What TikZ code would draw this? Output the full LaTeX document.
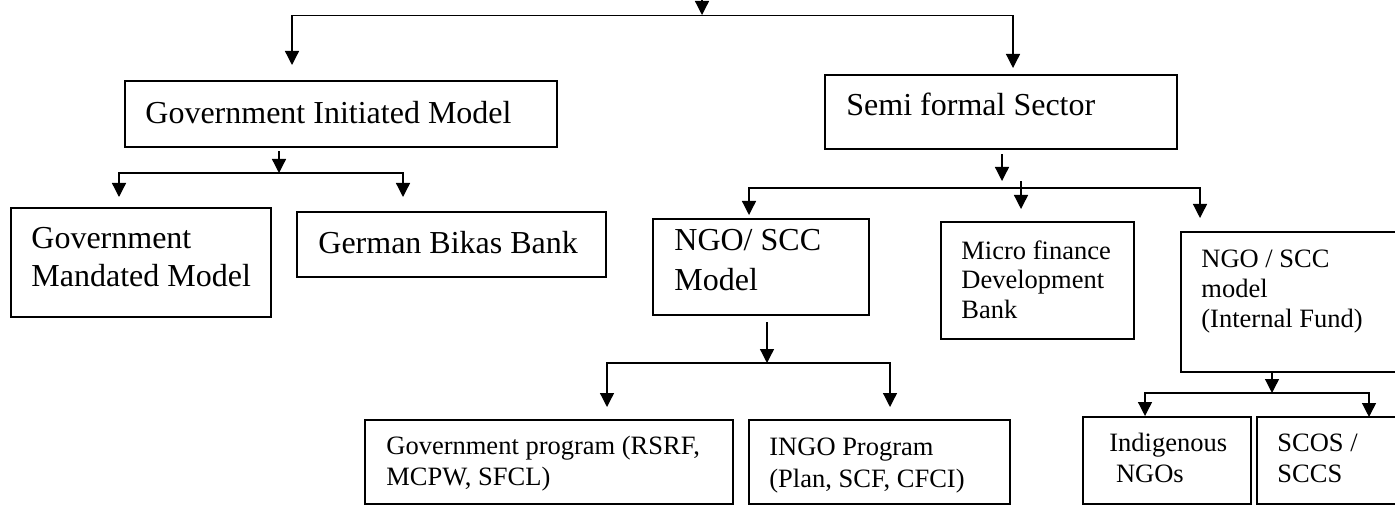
\documentclass[tikz,border=0pt]{standalone}
\usepackage{fontspec}
\setmainfont{Liberation Serif}
\usetikzlibrary{arrows.meta,fit}
\begin{document}
\begin{tikzpicture}[x=0.5pt,y=-0.5pt,
  box/.style={draw, line width=0.75pt, inner sep=0pt},
  lnk/.style={line width=0.65pt, line cap=rect},
  arr/.style={line width=0.65pt, line cap=rect, -{Triangle[width=7pt,length=7pt]}},
  big/.style={font=\fontsize{16pt}{19pt}\selectfont, anchor=north west, inner sep=0pt, align=left},
  sml/.style={font=\fontsize{13.25pt}{15.5pt}\selectfont, anchor=north west, inner sep=0pt, align=left}]
\useasboundingbox (0,0) rectangle (1395,507);
\clip (0,0) rectangle (1395,507);

% boxes
\node[box, fit={(125,81) (557,147)}] (gi) {};
\node[box, fit={(825,75) (1177,149)}] (sf) {};
\node[box, fit={(11,208) (271,317)}] (gm) {};
\node[box, fit={(297,212) (606,277)}] (gb) {};
\node[box, fit={(653,219) (869,315)}] (ngo) {};
\node[box, fit={(941,222) (1134,339)}] (mf) {};
\node[box, fit={(1181,232) (1402,372)}] (nif) {};
\node[box, fit={(365,420) (733,504)}] (gp) {};
\node[box, fit={(749,420) (1010,504)}] (ig) {};
\node[box, fit={(1083,417) (1251,504)}] (ind) {};
\node[box, fit={(1257,417) (1402,504)}] (sc) {};

% texts
\node[big] (giT) at (145,91) {\rule{0pt}{1em}Government Initiated Model};
\node[big] (sfT) at (846,83) {\rule{0pt}{1em}Semi formal Sector};
\node[big] (gmT) at (31,216) {\rule{0pt}{1em}Government\\Mandated Model};
\node[big] (gbT) at (318,221) {\rule{0pt}{1em}German Bikas Bank};
\node[big, font=\fontsize{16pt}{20pt}\selectfont] (ngoT) at (674,218) {\rule{0pt}{1em}NGO/ SCC\\Model};
\node[sml, font=\fontsize{13.25pt}{14.75pt}\selectfont] (mfT) at (961,232.5) {\rule{0pt}{1em}Micro finance\\Development\\Bank};
\node[sml, font=\fontsize{13.25pt}{15pt}\selectfont] (nifT) at (1201,240.5) {\rule{0pt}{1em}NGO / SCC\\model\\(Internal Fund)};
\node[sml] (gpT) at (386,427.5) {\rule{0pt}{1em}Government program (RSRF,\\MCPW, SFCL)};
\node[sml, font=\fontsize{13.25pt}{16pt}\selectfont] (igT) at (769,428.5) {\rule{0pt}{1em}INGO Program\\(Plan, SCF, CFCI)};
\node[sml] (indT) at (1109,424.5) {\rule{0pt}{1em}Indigenous\\\ NGOs};
\node[sml] (scT) at (1277,424.5) {\rule{0pt}{1em}SCOS /\\SCCS};

% top level
\coordinate (c0) at (702,-20);
\coordinate (c1) at (702,15);
\draw[arr] (c0) -- (c1);
\coordinate (tL) at (292,15.7);
\coordinate (tR) at (1013,15.7);
\coordinate (giIn) at (292,65);
\coordinate (sfIn) at (1013,68);
\draw[lnk] (tL) -- (tR);
\draw[arr] (tL) -- (giIn);
\draw[arr] (tR) -- (sfIn);

% government initiated branch
\coordinate (giJ) at (279,173);
\draw[arr] ([yshift=-2pt]gi.south -| giJ) -- (giJ);
\coordinate (gmJ) at (119,173);
\coordinate (gbJ) at (403,173);
\coordinate (gmIn) at (119,197);
\coordinate (gbIn) at (403,197);
\draw[lnk] (gmJ) -- (gbJ);
\draw[arr] (gmJ) -- (gmIn);
\draw[arr] (gbJ) -- (gbIn);

% semi formal branch
\coordinate (sfJ) at (1002,181);
\draw[arr] ([yshift=-2.5pt]sf.south -| sfJ) -- (sfJ);
\coordinate (ngoJ) at (749,188);
\coordinate (nifJ) at (1200,188);
\coordinate (mfJ) at (1021,182);
\draw[lnk] (ngoJ) -- (nifJ);
\coordinate (ngoIn) at (749,215);
\coordinate (mfIn) at (1021,209);
\coordinate (nifIn) at (1200,218);
\draw[arr] (ngoJ) -- (ngoIn);
\draw[arr] (mfJ) -- (mfIn);
\draw[arr] (nifJ) -- (nifIn);

% NGO/SCC model branch
\coordinate (ngoD) at (767,363);
\draw[arr] ([yshift=-3.5pt]ngo.south -| ngoD) -- (ngoD);
\coordinate (gpJ) at (607,363);
\coordinate (igJ) at (890,363);
\draw[lnk] (gpJ) -- (igJ);
\coordinate (gpIn) at (607,407);
\coordinate (igIn) at (890,407);
\draw[arr] (gpJ) -- (gpIn);
\draw[arr] (igJ) -- (igIn);

% internal fund branch
\coordinate (nifD) at (1272,393);
\draw[arr] (nif.south -| nifD) -- (nifD);
\coordinate (indJ) at (1145,393);
\coordinate (scJ) at (1369,393);
\draw[lnk] (indJ) -- (scJ);
\coordinate (indIn) at (1145,416);
\coordinate (scIn) at (1369,417);
\draw[arr] (indJ) -- (indIn);
\draw[arr] (scJ) -- (scIn);
\end{tikzpicture}
\end{document}
